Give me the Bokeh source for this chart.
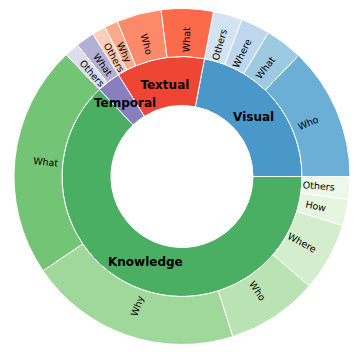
import math
from bokeh.plotting import figure
from bokeh.models import ColumnDataSource, Range1d
from bokeh.core.properties import value
from bokeh.embed import file_html
from bokeh.resources import INLINE

# ---- data (percent shares) ----
categories = ["Visual", "Textual", "Temporal", "Knowledge"]
category_colors = ["#4a97c9", "#ef4535", "#8a7fbe", "#4aaf62"]

visual_labels = ["Who", "What", "Where", "Others"]
visual_values = [12.8, 3.6, 2.8, 2.8]
visual_colors = ["#6baed6", "#9ecae1", "#bdd7ee", "#d3e3f3"]

textual_labels = ["What", "Who", "Why", "Others"]
textual_values = [5.0, 4.3, 1.3, 1.3]
textual_colors = ["#fb6a4a", "#fc8a6a", "#fcaa8c", "#fdcdb8"]

temporal_labels = ["What", "Others"]
temporal_values = [1.8, 1.4]
temporal_colors = ["#b3b0d6", "#dcdcec"]

knowledge_labels = ["What", "Why", "Who", "Where", "How", "Others"]
knowledge_values = [22.4, 20.4, 8.8, 6.6, 2.5, 2.2]
knowledge_colors = ["#74c476", "#a0d89b", "#b9e3b2", "#d4eecd", "#e5f5e0", "#edf8ea"]

children = [
    (visual_labels, visual_values, visual_colors),
    (textual_labels, textual_values, textual_colors),
    (temporal_labels, temporal_values, temporal_colors),
    (knowledge_labels, knowledge_values, knowledge_colors),
]

R_HOLE, R_MID, R_OUT = 71, 120, 168
R_IN_LABEL, R_OUT_LABEL = 93, 137

total = sum(sum(v) for _, v, _ in children)

inner = dict(start=[], end=[], color=[], x=[], y=[], text=[], angle=[])
outer = dict(start=[], end=[], color=[], x=[], y=[], text=[], angle=[])


def rot(theta):
    d = math.degrees(theta) % 360
    if 90 < d < 270:
        d -= 180
    return math.radians(d)


acc = 0.0
for cat, ccol, (labs, vals, cols) in zip(categories, category_colors, children):
    a0 = acc / total * 2 * math.pi
    for lab, v, col in zip(labs, vals, cols):
        s = acc / total * 2 * math.pi
        acc += v
        e = acc / total * 2 * math.pi
        m = (s + e) / 2
        outer["start"].append(s); outer["end"].append(e); outer["color"].append(col)
        outer["x"].append(R_OUT_LABEL * math.cos(m)); outer["y"].append(R_OUT_LABEL * math.sin(m))
        outer["text"].append(lab); outer["angle"].append(rot(m))
    a1 = acc / total * 2 * math.pi
    m = (a0 + a1) / 2
    inner["start"].append(a0); inner["end"].append(a1); inner["color"].append(ccol)
    inner["x"].append(R_IN_LABEL * math.cos(m)); inner["y"].append(R_IN_LABEL * math.sin(m))
    inner["text"].append(cat); inner["angle"].append(0)

W = H = 351
cx, cy = 181.5, 176
p = figure(width=W, height=H, x_range=Range1d(-cx, W - cx), y_range=Range1d(cy - H, cy),
           output_backend="svg", toolbar_location=None, min_border=0,
           outline_line_color=None, background_fill_color="white")
p.axis.visible = False
p.grid.visible = False

src_in = ColumnDataSource(inner)
src_out = ColumnDataSource(outer)
p.annular_wedge(x=0, y=0, inner_radius=R_HOLE, outer_radius=R_MID, start_angle="start",
                end_angle="end", fill_color="color", line_color="white", line_width=1,
                source=src_in)
p.annular_wedge(x=0, y=0, inner_radius=R_MID, outer_radius=R_OUT, start_angle="start",
                end_angle="end", fill_color="color", line_color="white", line_width=1,
                source=src_out)

p.text(x="x", y="y", text="text", angle="angle", source=src_out,
       text_font=value("DejaVu Sans"), text_font_size="9.5px", text_color="black",
       text_align="center", text_baseline="middle")
p.text(x="x", y="y", text="text", angle="angle", source=src_in,
       text_font=value("DejaVu Sans"), text_font_size="12px", text_font_style="bold",
       text_color="black", text_align="center", text_baseline="middle")

open("out.html", "w").write(file_html(p, INLINE))
